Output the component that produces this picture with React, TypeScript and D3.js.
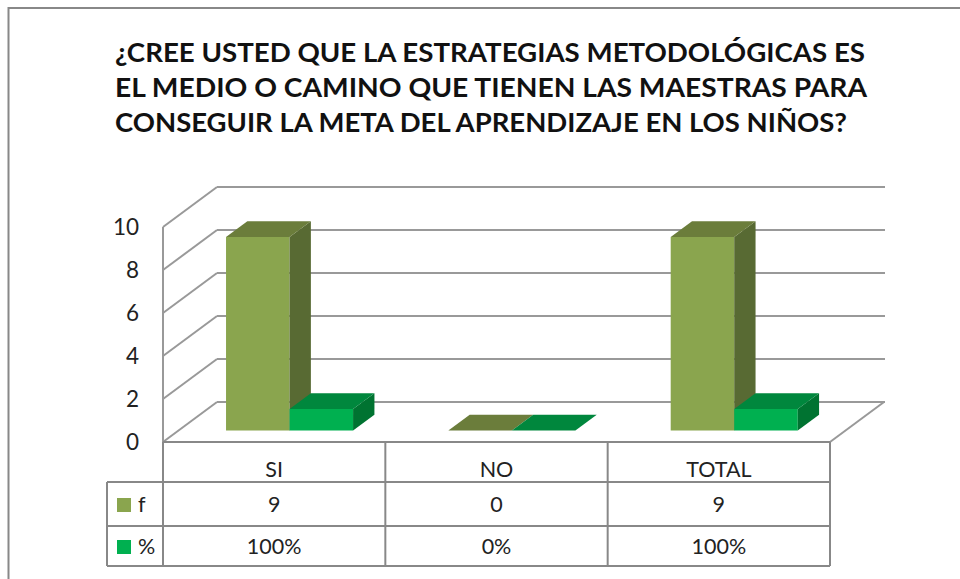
import React from 'react';
import * as d3 from 'd3';

const titleLines = [
  '¿CREE USTED QUE LA ESTRATEGIAS METODOLÓGICAS ES',
  'EL MEDIO O CAMINO QUE TIENEN LAS MAESTRAS PARA',
  'CONSEGUIR LA META DEL APRENDIZAJE EN LOS NIÑOS?',
];
const categories = ['SI', 'NO', 'TOTAL'];
const seriesNames = ['f', '%'];
const fValues = [9, 0, 9];
const pctValues = [1, 0, 1];
const fLabels = ['9', '0', '9'];
const pctLabels = ['100%', '0%', '100%'];
const yTicks = [0, 2, 4, 6, 8, 10];

const faceColors = {
  f: { front: '#8aa54e', top: '#6b7d3b', side: '#586a33' },
  '%': { front: '#00b050', top: '#00873d', side: '#007331' },
};

// oblique depth of the 3d box
const DX = 54;
const DY = 40;
const Z0 = 0.285;
const Z1 = 0.68;

const pt = (x: number, y: number, z: number) => `${x + z * DX},${y - z * DY}`;

export default function App() {
  const left = 163, right = 830;
  const x = d3.scaleBand().domain(categories).range([left, right]);
  const inner = d3.scaleBand().domain(seriesNames).range([0, x.bandwidth()]).paddingOuter(0.75);
  const y = d3.scaleLinear().domain([0, 10]).range([442, 227]);

  const tableTop = 442, row1 = 482, row2 = 526, tableBottom = 566, legendLeft = 107;

  const bars = categories.flatMap((c, i) =>
    seriesNames.map((s, j) => ({
      cat: c,
      series: s,
      value: j === 0 ? fValues[i] : pctValues[i],
    }))
  );

  const lineColor = '#999';
  const font = "Lato, 'Open Sans', sans-serif";

  return (
    <svg width={960} height={579} style={{ position: 'absolute', left: 0, top: 0 }}>
      <rect x={0} y={0} width={960} height={579} fill="#fff" />
      <rect x={8.5} y={8} width={1000} height={700} fill="none" stroke="#888" strokeWidth={2} />

      {titleLines.map((t, i) => (
        <text
          key={i}
          x={115}
          y={62 + i * 35}
          fontFamily={font}
          fontWeight="bold"
          fontSize={27.5}
          fill="#111"
          textLength={[750, 752, 732][i]}
          lengthAdjust="spacingAndGlyphs"
        >
          {t}
        </text>
      ))}

      {/* back wall and side wall gridlines */}
      <g stroke={lineColor} strokeWidth={2} fill="none">
        {yTicks.map((t) => (
          <g key={t}>
            <line x1={left + DX} x2={right + DX + 1} y1={y(t) - DY} y2={y(t) - DY} />
            <line x1={left} y1={y(t)} x2={left + DX} y2={y(t) - DY} />
          </g>
        ))}
        <line x1={left} x2={left} y1={y(10)} y2={tableTop} />
        <line x1={right} y1={y(0)} x2={right + DX} y2={y(0) - DY} />
      </g>

      {yTicks.map((t) => (
        <text
          key={t}
          x={139}
          y={y(t)}
          dy="0.36em"
          textAnchor="end"
          fontFamily={font}
          fontSize={22.5}
          fill="#222"
        >
          {t}
        </text>
      ))}

      {/* bars */}
      {bars.map((b) => {
        const x0 = (x(b.cat) as number) + (inner(b.series) as number);
        const x1 = x0 + inner.bandwidth();
        const yb = y(0);
        const yt = y(b.value);
        const col = faceColors[b.series as 'f' | '%'];
        return (
          <g key={b.cat + b.series}>
            <polygon fill={col.front} points={[pt(x0, yb, Z0), pt(x1, yb, Z0), pt(x1, yt, Z0), pt(x0, yt, Z0)].join(' ')} />
            <polygon fill={col.side} points={[pt(x1, yb, Z0), pt(x1, yb, Z1), pt(x1, yt, Z1), pt(x1, yt, Z0)].join(' ')} />
            <polygon fill={col.top} points={[pt(x0, yt, Z0), pt(x1, yt, Z0), pt(x1, yt, Z1), pt(x0, yt, Z1)].join(' ')} />
          </g>
        );
      })}

      {/* data table */}
      <g stroke="#888" strokeWidth={2} fill="none">
        <line x1={left} x2={right} y1={tableTop} y2={tableTop} />
        {[row1, row2, tableBottom].map((r) => (
          <line key={r} x1={legendLeft} x2={right} y1={r} y2={r} />
        ))}
        <line x1={legendLeft} x2={legendLeft} y1={row1} y2={tableBottom} />
        {categories.map((c) => (
          <line key={c} x1={x(c) as number} x2={x(c) as number} y1={tableTop} y2={tableBottom} />
        ))}
        <line x1={right} x2={right} y1={tableTop} y2={tableBottom} />
      </g>

      <g fontFamily={font} fontSize={21.5} fill="#222" textAnchor="middle">
        {categories.map((c, i) => (
          <g key={c}>
            <text x={(x(c) as number) + x.bandwidth() / 2} y={477}>{c}</text>
            <text x={(x(c) as number) + x.bandwidth() / 2} y={512}>{fLabels[i]}</text>
            <text x={(x(c) as number) + x.bandwidth() / 2} y={554}>{pctLabels[i]}</text>
          </g>
        ))}
      </g>

      {seriesNames.map((s, i) => (
        <g key={s}>
          <rect x={117} y={[498, 540][i]} width={14} height={14} fill={faceColors[s as 'f' | '%'].front} />
          <text x={138} y={[512, 554][i]} fontFamily={font} fontSize={21.5} fill="#222">
            {s}
          </text>
        </g>
      ))}
    </svg>
  );
}
